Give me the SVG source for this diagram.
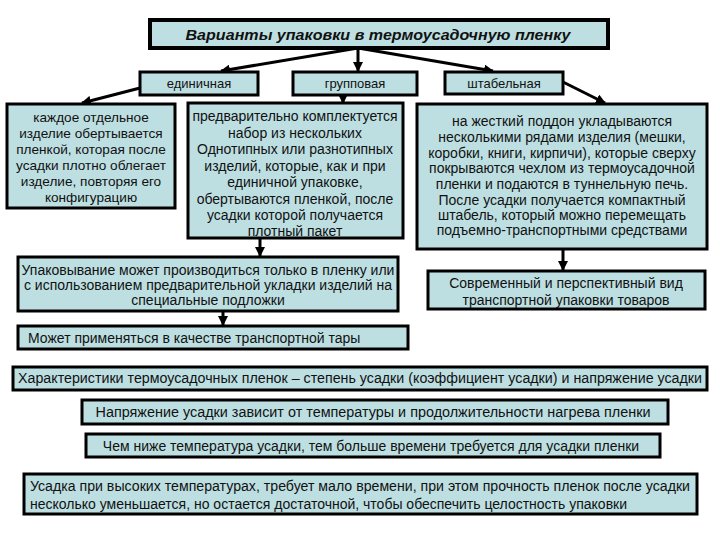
<svg xmlns="http://www.w3.org/2000/svg" width="720" height="540" viewBox="0 0 720 540">
<style>
.box{fill:#bddfe2;stroke:#000;stroke-width:3}
.t{font-family:"Liberation Sans",Arial,sans-serif;font-size:13px;fill:#111}
.c{text-anchor:middle}
.b{font-size:14px}
.m{font-size:13.6px}
.title{font-family:"Liberation Sans",Arial,sans-serif;font-size:15px;font-weight:bold;font-style:italic;fill:#111;text-anchor:middle}
.con{stroke:#000;stroke-width:3;fill:none;marker-end:url(#ah)}
</style>
<defs>
<marker id="ah" viewBox="0 0 10 10" refX="9" refY="5" markerWidth="10" markerHeight="10" markerUnits="userSpaceOnUse" orient="auto">
<path d="M0,0 L10,5 L0,10 z" fill="#000"/>
</marker>
</defs>
<rect width="720" height="540" fill="#fff"/>
<g id="connectors">
<line class="con" x1="358" y1="48" x2="221" y2="71"/>
<line class="con" x1="358" y1="48" x2="358" y2="71"/>
<line class="con" x1="358" y1="48" x2="493" y2="71"/>
<line class="con" x1="140" y1="88" x2="82" y2="103"/>
<line class="con" x1="343" y1="95" x2="343" y2="103"/>
<line class="con" x1="563" y1="82" x2="605" y2="103"/>
<line class="con" x1="260" y1="238" x2="260" y2="256"/>
<line class="con" x1="223" y1="311" x2="223" y2="325"/>
<line class="con" x1="563" y1="249" x2="563" y2="270"/>
</g>
<g id="title">
<rect class="box" x="150" y="20" width="458" height="28" style="stroke-width:4"/>
<text class="title" x="378" y="40" textLength="385" lengthAdjust="spacingAndGlyphs">Варианты упаковки в термоусадочную пленку</text>
</g>
<g id="single">
<rect class="box" x="140" y="72" width="118" height="23"/>
<text class="t c" x="199" y="88">единичная</text>
</g>
<g id="group">
<rect class="box" x="293" y="72" width="124" height="23"/>
<text class="t c" x="355" y="88">групповая</text>
</g>
<g id="stack">
<rect class="box" x="445" y="72" width="118" height="22"/>
<text class="t c" x="504" y="88">штабельная</text>
</g>
<g id="single-desc">
<rect class="box" x="7" y="104" width="168" height="104"/>
<text class="t c m" x="91" y="122">каждое отдельное</text>
<text class="t c m" x="91" y="138">изделие обертывается</text>
<text class="t c m" x="91" y="154">пленкой, которая после</text>
<text class="t c m" x="91" y="170">усадки плотно облегает</text>
<text class="t c m" x="91" y="186">изделие, повторяя его</text>
<text class="t c m" x="91" y="202">конфигурацию</text>
</g>
<g id="group-desc">
<rect class="box" x="188" y="103" width="215" height="135"/>
<text class="t c b" x="295" y="121">предварительно комплектуется</text>
<text class="t c b" x="295" y="137.5">набор  из нескольких</text>
<text class="t c b" x="295" y="154">Однотипных  или разнотипных</text>
<text class="t c b" x="295" y="170.5">изделий, которые, как и при</text>
<text class="t c b" x="295" y="187">единичной упаковке,</text>
<text class="t c b" x="295" y="203.5">обертываются пленкой, после</text>
<text class="t c b" x="295" y="220">усадки которой получается</text>
<text class="t c b" x="295" y="236">плотный пакет</text>
</g>
<g id="stack-desc">
<rect class="box" x="417" y="104" width="290" height="145"/>
<text class="t c b" x="562" y="126">на жесткий поддон укладываются</text>
<text class="t c b" x="562" y="142">несколькими рядами изделия (мешки,</text>
<text class="t c b" x="562" y="158">коробки, книги, кирпичи), которые сверху</text>
<text class="t c b" x="562" y="173">покрываются чехлом из термоусадочной</text>
<text class="t c b" x="562" y="189">пленки и подаются в туннельную печь.</text>
<text class="t c b" x="562" y="205">После усадки получается компактный</text>
<text class="t c b" x="562" y="220">штабель, который можно перемещать</text>
<text class="t c b" x="562" y="235">подъемно-транспортными средствами</text>
</g>
<g id="packing">
<rect class="box" x="18" y="257" width="380" height="54"/>
<text class="t c b" x="208" y="275">Упаковывание может производиться только в пленку или</text>
<text class="t c b" x="208" y="290">с использованием предварительной укладки изделий на</text>
<text class="t c b" x="208" y="305">специальные подложки</text>
</g>
<g id="modern">
<rect class="box" x="428" y="271" width="277" height="38"/>
<text class="t c b" x="566" y="288">Современный и перспективный вид</text>
<text class="t c b" x="566" y="305">транспортной упаковки товаров</text>
</g>
<g id="transport">
<rect class="box" x="18" y="326" width="390" height="23"/>
<text class="t b" x="28" y="343">Может применяться в качестве транспортной тары</text>
</g>
<g id="characteristics">
<rect class="box" x="13" y="367" width="694" height="23"/>
<text class="t b" x="18" y="383" textLength="684" lengthAdjust="spacingAndGlyphs">Характеристики термоусадочных пленок – степень усадки (коэффициент усадки) и напряжение усадки</text>
</g>
<g id="tension">
<rect class="box" x="82" y="400" width="586" height="24"/>
<text class="t c b" x="373" y="417" textLength="555" lengthAdjust="spacingAndGlyphs">Напряжение усадки зависит от температуры и продолжительности нагрева пленки</text>
</g>
<g id="lower">
<rect class="box" x="86" y="434" width="574" height="23"/>
<text class="t c b" x="371" y="451">Чем ниже температура усадки, тем больше времени требуется для усадки пленки</text>
</g>
<g id="high">
<rect class="box" x="24" y="474" width="673" height="40"/>
<text class="t b" x="30" y="491" textLength="660" lengthAdjust="spacingAndGlyphs">Усадка при высоких температурах, требует мало времени, при этом прочность пленок после усадки</text>
<text class="t b" x="30" y="509">несколько уменьшается, но остается достаточной, чтобы обеспечить целостность упаковки</text>
</g>
</svg>
